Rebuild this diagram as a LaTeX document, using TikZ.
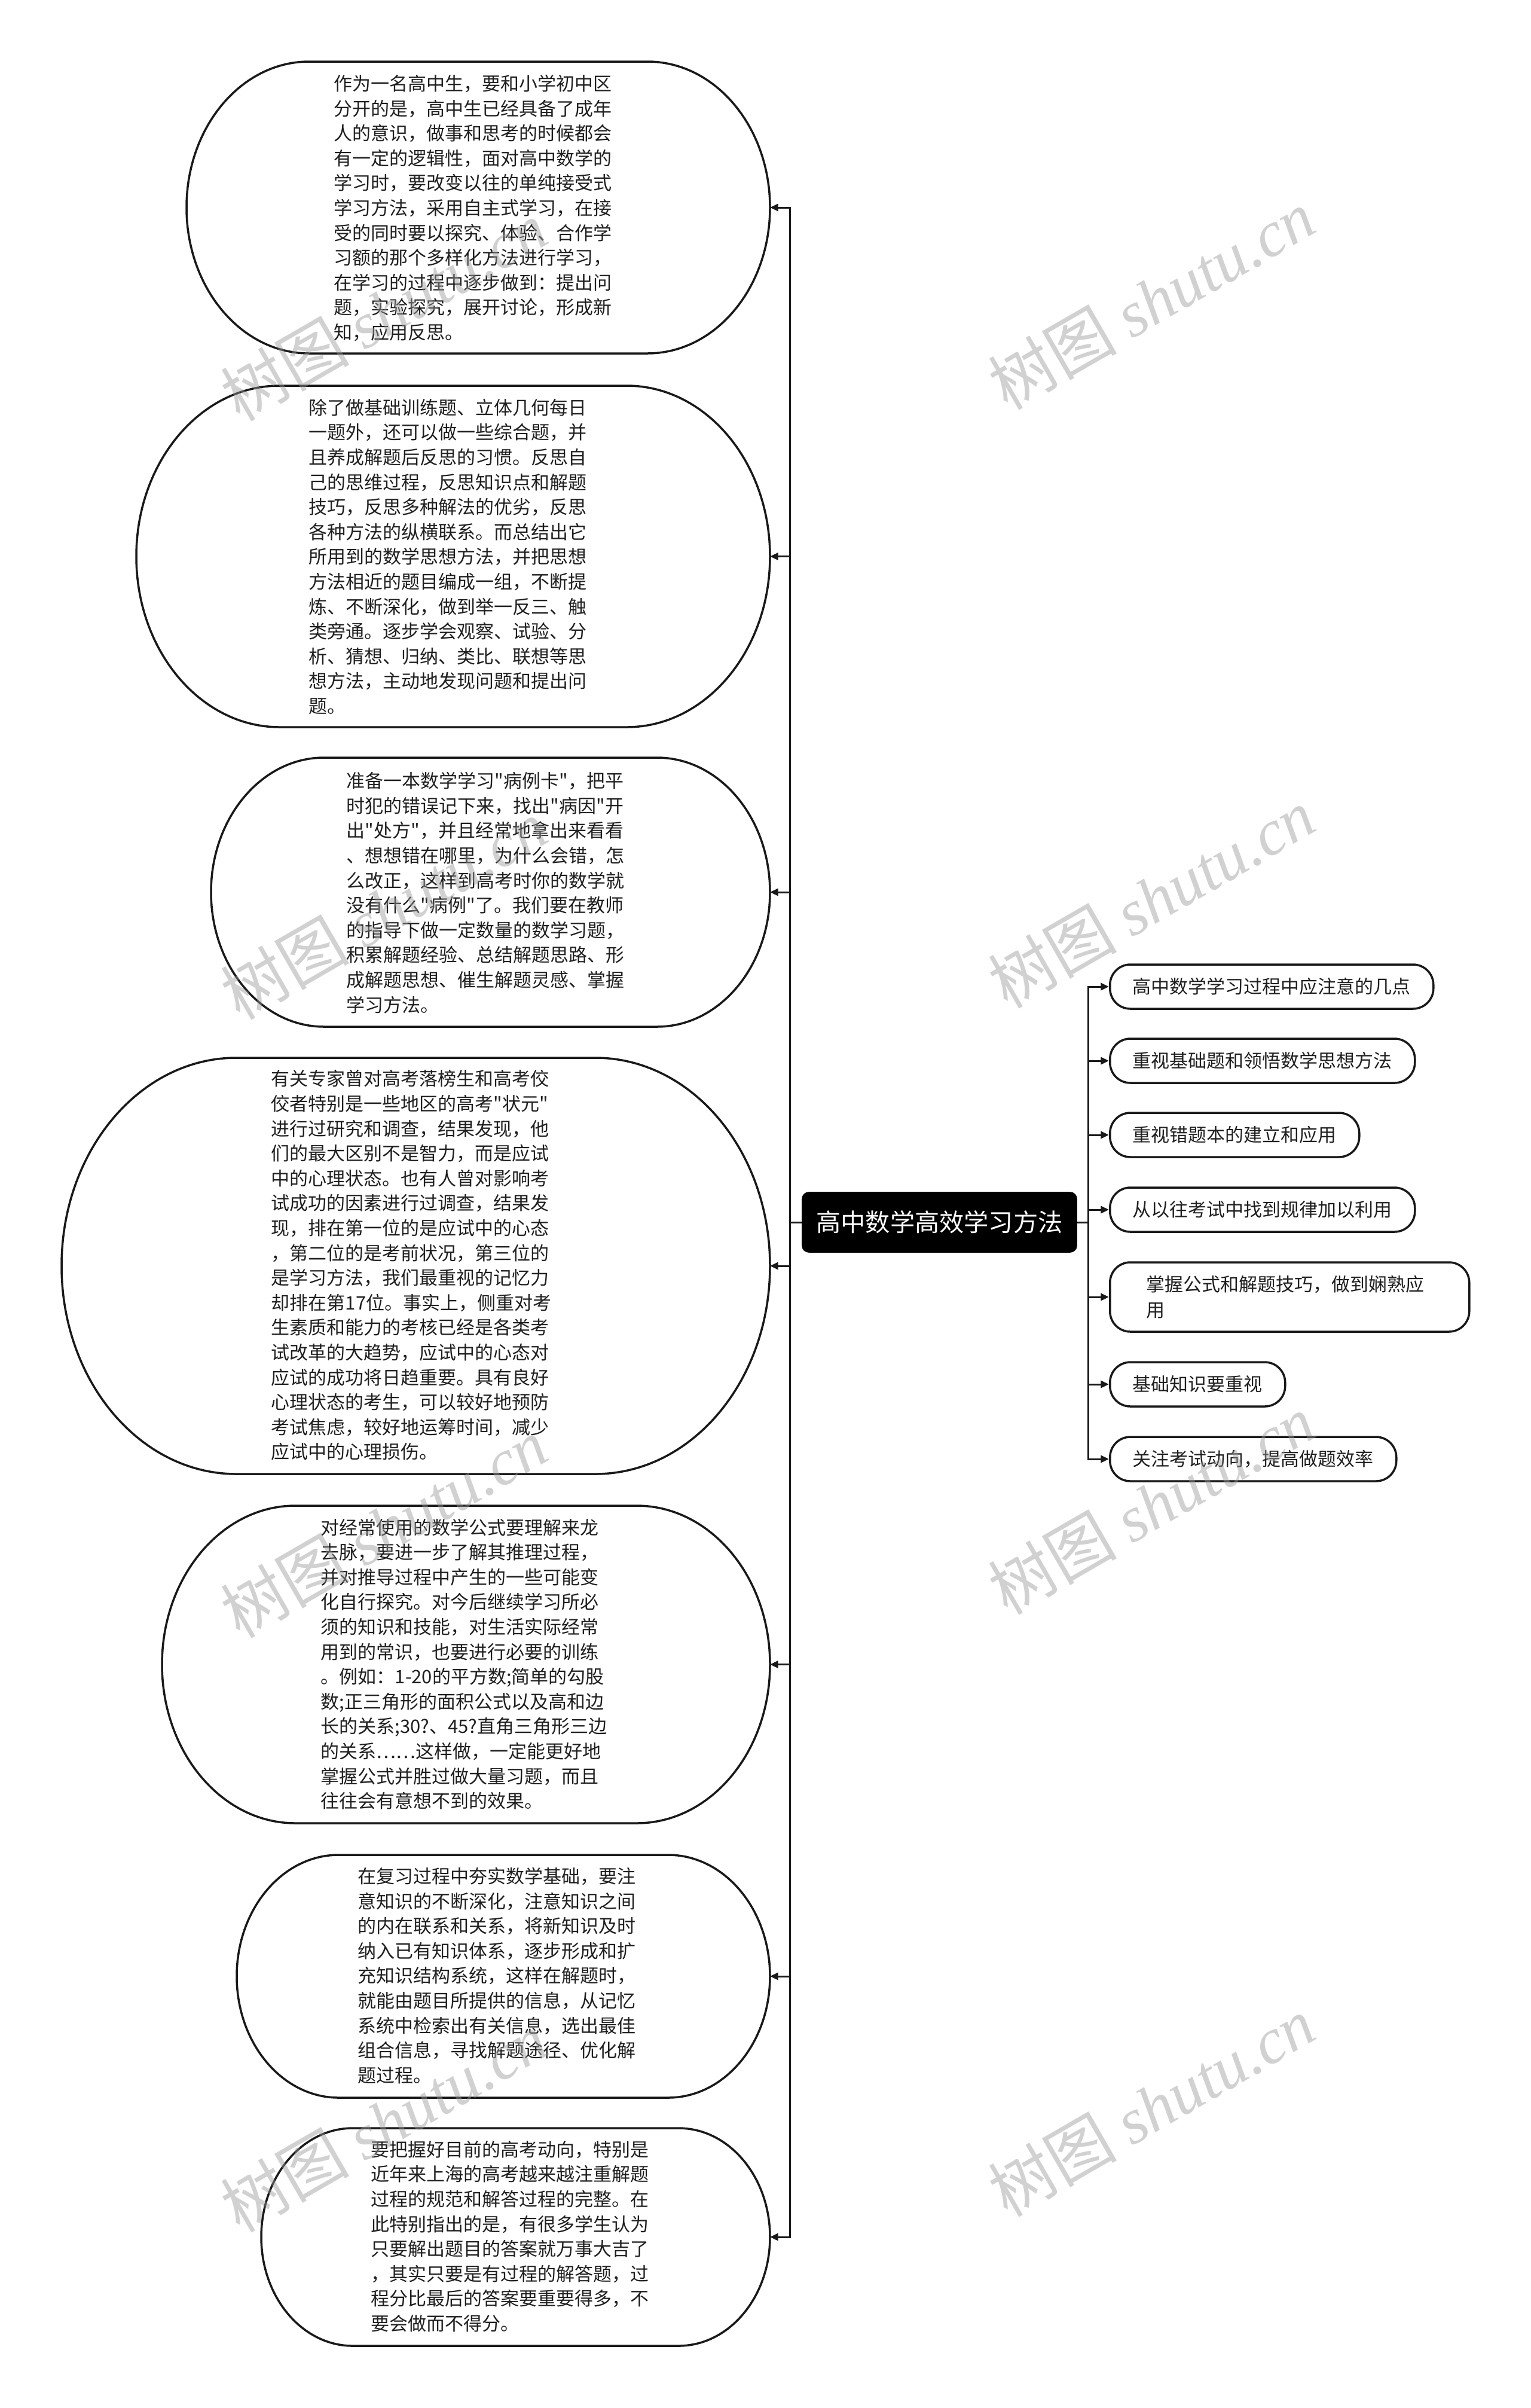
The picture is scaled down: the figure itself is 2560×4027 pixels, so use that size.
\documentclass[tikz,border=0pt]{standalone}
\usepackage{fontspec}
\newfontfamily\cjk{Noto Sans CJK SC}
\newfontfamily\wmlatin{Liberation Serif}
\usetikzlibrary{arrows.meta}

\tikzset{
 leafline/.style={line width=0.875pt, draw=black!90, fill=white},
 leaftext/.style={font=\cjk\fontsize{7.75pt}{10.4pt}\selectfont, align=left, inner sep=0pt, anchor=west, text=black!88},
 rightbox/.style={draw=black!90, line width=0.875pt, fill=white, rounded corners=8.5pt, font=\cjk\fontsize{7.75pt}{10.75pt}\selectfont, inner xsep=9.5pt, inner ysep=0pt, minimum height=18.5pt, anchor=west, text=black!88},
 rootbox/.style={fill=black, draw=black, rounded corners=2.75pt, text=white, font=\cjk\fontsize{10.3pt}{12pt}\selectfont, minimum width=114.75pt, minimum height=25pt, inner sep=0pt},
 conn/.style={line width=0.75pt, draw=black!90},
 arr/.style={conn, -{Triangle[length=3.4pt,width=3pt]}},
 wm/.style={font=\cjk\fontsize{27pt}{30pt}\selectfont, text=black!40, opacity=0.45, rotate=30, inner sep=0pt},
}

\newcommand{\leafshape}[4]{%
 \pgfmathsetmacro{\lfh}{#4-#3}%
 \pgfmathsetmacro{\lfrx}{0.42*\lfh}%
 \pgfmathsetmacro{\lfcy}{(#3+#4)/2}%
 \pgfmathsetmacro{\lfa}{#1+\lfrx}%
 \pgfmathsetmacro{\lfb}{#2-\lfrx}%
 \pgfmathsetmacro{\lfkx}{0.5523*\lfrx}%
 \pgfmathsetmacro{\lfky}{0.5523*\lfh/2}%
 \draw[leafline] (\lfa,#3) -- (\lfb,#3)
   .. controls ({\lfb+\lfkx},#3) and (#2,{\lfcy-\lfky}) .. (#2,\lfcy)
   .. controls (#2,{\lfcy+\lfky}) and ({\lfb+\lfkx},#4) .. (\lfb,#4)
   -- (\lfa,#4)
   .. controls ({\lfa-\lfkx},#4) and (#1,{\lfcy+\lfky}) .. (#1,\lfcy)
   .. controls (#1,{\lfcy-\lfky}) and ({\lfa-\lfkx},#3) .. (\lfa,#3) -- cycle;
}

\begin{document}
\begin{tikzpicture}[x=0.25pt,y=-0.25pt]
\useasboundingbox (0,0) rectangle (2560,4027);
\fill[white] (0,0) rectangle (2560,4027);

% leaf shapes
\leafshape{312}{1288}{103}{591}
\leafshape{228}{1288}{645}{1216}
\leafshape{353}{1288}{1267}{1717}
\leafshape{103}{1288}{1769}{2465}
\leafshape{271}{1288}{2518}{3049}
\leafshape{396}{1288}{3102}{3508}
\leafshape{437}{1288}{3559}{3923}

\coordinate (e1) at (1288,347);
\coordinate (e2) at (1288,930.5);
\coordinate (e3) at (1288,1492);
\coordinate (e4) at (1288,2117);
\coordinate (e5) at (1288,2783.5);
\coordinate (e6) at (1288,3305);
\coordinate (e7) at (1288,3741);

\node[leaftext] (t1) at (558,348) {作为一名高中生，要和小学初中区\\分开的是，高中生已经具备了成年\\人的意识，做事和思考的时候都会\\有一定的逻辑性，面对高中数学的\\学习时，要改变以往的单纯接受式\\学习方法，采用自主式学习，在接\\受的同时要以探究、体验、合作学\\习额的那个多样化方法进行学习，\\在学习的过程中逐步做到：提出问\\题，实验探究，展开讨论，形成新\\知，应用反思。};

\node[leaftext] (t2) at (516,931) {除了做基础训练题、立体几何每日\\一题外，还可以做一些综合题，并\\且养成解题后反思的习惯。反思自\\己的思维过程，反思知识点和解题\\技巧，反思多种解法的优劣，反思\\各种方法的纵横联系。而总结出它\\所用到的数学思想方法，并把思想\\方法相近的题目编成一组，不断提\\炼、不断深化，做到举一反三、触\\类旁通。逐步学会观察、试验、分\\析、猜想、归纳、类比、联想等思\\想方法，主动地发现问题和提出问\\题。};

\node[leaftext] (t3) at (579,1493) {准备一本数学学习"病例卡"，把平\\时犯的错误记下来，找出"病因"开\\出"处方"，并且经常地拿出来看看\\、想想错在哪里，为什么会错，怎\\么改正，这样到高考时你的数学就\\没有什么"病例"了。我们要在教师\\的指导下做一定数量的数学习题，\\积累解题经验、总结解题思路、形\\成解题思想、催生解题灵感、掌握\\学习方法。};

\node[leaftext] (t4) at (453,2116) {有关专家曾对高考落榜生和高考佼\\佼者特别是一些地区的高考"状元"\\进行过研究和调查，结果发现，他\\们的最大区别不是智力，而是应试\\中的心理状态。也有人曾对影响考\\试成功的因素进行过调查，结果发\\现，排在第一位的是应试中的心态\\，第二位的是考前状况，第三位的\\是学习方法，我们最重视的记忆力\\却排在第17位。事实上，侧重对考\\生素质和能力的考核已经是各类考\\试改革的大趋势，应试中的心态对\\应试的成功将日趋重要。具有良好\\心理状态的考生，可以较好地预防\\考试焦虑，较好地运筹时间，减少\\应试中的心理损伤。};

\node[leaftext] (t5) at (536,2783) {对经常使用的数学公式要理解来龙\\去脉，要进一步了解其推理过程，\\并对推导过程中产生的一些可能变\\化自行探究。对今后继续学习所必\\须的知识和技能，对生活实际经常\\用到的常识，也要进行必要的训练\\。例如：1-20的平方数;简单的勾股\\数;正三角形的面积公式以及高和边\\长的关系;30?、45?直角三角形三边\\的关系……这样做，一定能更好地\\掌握公式并胜过做大量习题，而且\\往往会有意想不到的效果。};

\node[leaftext] (t6) at (598,3304) {在复习过程中夯实数学基础，要注\\意知识的不断深化，注意知识之间\\的内在联系和关系，将新知识及时\\纳入已有知识体系，逐步形成和扩\\充知识结构系统，这样在解题时，\\就能由题目所提供的信息，从记忆\\系统中检索出有关信息，选出最佳\\组合信息，寻找解题途径、优化解\\题过程。};

\node[leaftext] (t7) at (620,3740) {要把握好目前的高考动向，特别是\\近年来上海的高考越来越注重解题\\过程的规范和解答过程的完整。在\\此特别指出的是，有很多学生认为\\只要解出题目的答案就万事大吉了\\，其实只要是有过程的解答题，过\\程分比最后的答案要重要得多，不\\要会做而不得分。};

% root
\node[rootbox] (root) at (1571.5,2044) {高中数学高效学习方法};

% right nodes
\node[rightbox] (r1) at (1855,1650) {高中数学学习过程中应注意的几点};
\node[rightbox] (r2) at (1855,1774) {重视基础题和领悟数学思想方法};
\node[rightbox] (r3) at (1855,1898) {重视错题本的建立和应用};
\node[rightbox] (r4) at (1855,2023) {从以往考试中找到规律加以利用};
\node[rightbox, text width=120pt, align=left, inner xsep=15.125pt, minimum height=29pt] (r5) at (1855,2169) {掌握公式和解题技巧，做到娴熟应\\用};
\node[rightbox] (r6) at (1855,2315) {基础知识要重视};
\node[rightbox] (r7) at (1855,2440) {关注考试动向，提高做题效率};

% connectors
\coordinate (lj) at (1321,2044);
\coordinate (rj) at (1820,2044);
\draw[conn] (root.west) -- (lj);
\draw[conn] (root.east) -- (rj);
\foreach \e in {e1,e2,e3,e4,e5,e6,e7} { \draw[arr] (lj) |- (\e); }
\foreach \r in {r1,r2,r3,r4,r5,r6,r7} { \draw[arr] (rj) |- (\r.west); }

% watermarks
\node[wm] (w1) at (642,520) {树图 {\wmlatin\itshape shutu.cn}};
\node[wm] (w2) at (1926,501) {树图 {\wmlatin\itshape shutu.cn}};
\node[wm] (w3) at (642,1521) {树图 {\wmlatin\itshape shutu.cn}};
\node[wm] (w4) at (1926,1502) {树图 {\wmlatin\itshape shutu.cn}};
\node[wm] (w5) at (642,2555) {树图 {\wmlatin\itshape shutu.cn}};
\node[wm] (w6) at (1926,2516) {树图 {\wmlatin\itshape shutu.cn}};
\node[wm] (w7) at (642,3549) {树图 {\wmlatin\itshape shutu.cn}};
\node[wm] (w8) at (1926,3523) {树图 {\wmlatin\itshape shutu.cn}};
\end{tikzpicture}
\end{document}
